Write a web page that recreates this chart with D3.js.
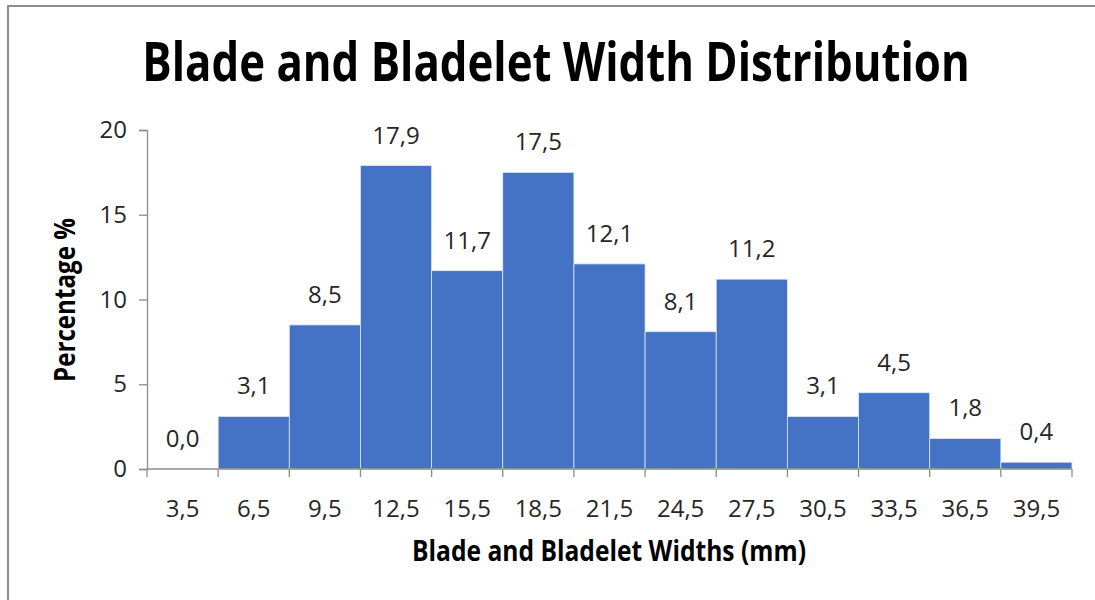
<!DOCTYPE html>
<html>
<head>
<meta charset="utf-8">
<script src="https://cdn.jsdelivr.net/npm/d3@7"></script>
<style>
  html, body { margin: 0; padding: 0; background: #fff; }
  svg { display: block; }
  text { font-family: "Open Sans", "Liberation Sans", sans-serif; }
</style>
</head>
<body>
<svg id="chart" width="1095" height="600"></svg>
<script>
// Width classes (mm) and the share of pieces in each class (%)
const widthClasses = ["3,5", "6,5", "9,5", "12,5", "15,5", "18,5", "21,5", "24,5", "27,5", "30,5", "33,5", "36,5", "39,5"];
const percentages = [0.0, 3.1, 8.5, 17.9, 11.7, 17.5, 12.1, 8.1, 11.2, 3.1, 4.5, 1.8, 0.4];
const yTicks = [0, 5, 10, 15, 20];

const titleText = "Blade and Bladelet Width Distribution";
const xTitleText = "Blade and Bladelet Widths (mm)";
const yTitleText = "Percentage %";

const svg = d3.select("#chart");
const W = 1095, H = 600;
const plot = { left: 147, right: 1072, top: 130, bottom: 469 };

const fmt = v => v.toFixed(1).replace(".", ",");

// outer chart frame
svg.append("rect")
  .attr("x", 8).attr("y", 6)
  .attr("width", W + 20).attr("height", H + 20)
  .attr("fill", "#fff")
  .attr("stroke", "#8c8c8c").attr("stroke-width", 2);

// shrink/grow a text element so it spans a given width
function fitWidth(sel, target) {
  const node = sel.node();
  const fs = parseFloat(sel.attr("font-size"));
  const w = node.getComputedTextLength();
  sel.attr("font-size", (fs * target / w).toFixed(2));
}

const x = d3.scaleBand()
  .domain(widthClasses)
  .range([plot.left, plot.right])
  .padding(0);

const y = d3.scaleLinear()
  .domain([0, 20])
  .range([plot.bottom, plot.top]);

// bars
svg.append("g")
  .selectAll("rect")
  .data(percentages)
  .join("rect")
  .attr("x", (d, i) => x(widthClasses[i]))
  .attr("y", d => y(d))
  .attr("width", x.bandwidth())
  .attr("height", d => y(0) - y(d))
  .attr("fill", "#4472C4")
  .attr("stroke", d => d > 0 ? "#dfe6f4" : "none")
  .attr("stroke-width", 0.8);

// value labels
svg.append("g")
  .selectAll("text")
  .data(percentages)
  .join("text")
  .attr("x", (d, i) => x(widthClasses[i]) + x.bandwidth() / 2)
  .attr("y", d => y(d) - 22)
  .attr("text-anchor", "middle")
  .attr("font-size", 24)
  .attr("fill", "#262626")
  .text(d => fmt(d));

// y axis
const yAxis = svg.append("g")
  .attr("transform", `translate(${plot.left},0)`)
  .call(d3.axisLeft(y).tickValues(yTicks).tickSize(8).tickPadding(12).tickFormat(d3.format("d")));
yAxis.select(".domain").attr("stroke", "#8c8c8c").attr("stroke-width", 1.3);
yAxis.selectAll(".tick line").attr("stroke", "#8c8c8c").attr("stroke-width", 1.3);
yAxis.selectAll(".tick text")
  .attr("font-size", 24).attr("fill", "#262626")
  .attr("font-family", "'Open Sans', sans-serif");

// x axis: line with ticks on the class boundaries
const xAxisG = svg.append("g");
xAxisG.append("line")
  .attr("x1", plot.left).attr("x2", plot.right)
  .attr("y1", plot.bottom).attr("y2", plot.bottom)
  .attr("stroke", "#8c8c8c").attr("stroke-width", 1.3);
const boundaries = widthClasses.map(c => x(c)).concat([x(widthClasses[widthClasses.length - 1]) + x.bandwidth()]);
xAxisG.selectAll("line.tk")
  .data(boundaries)
  .join("line")
  .attr("class", "tk")
  .attr("x1", d => d).attr("x2", d => d)
  .attr("y1", plot.bottom).attr("y2", plot.bottom + 8)
  .attr("stroke", "#8c8c8c").attr("stroke-width", 1.3);
xAxisG.selectAll("text")
  .data(widthClasses)
  .join("text")
  .attr("x", d => x(d) + x.bandwidth() / 2)
  .attr("y", 517)
  .attr("text-anchor", "middle")
  .attr("font-size", 24)
  .attr("fill", "#262626")
  .text(d => d);

// titles (stretched vertically for a condensed look)
const title = svg.append("text")
  .attr("transform", "translate(556,81) scale(1,1.22)")
  .attr("text-anchor", "middle")
  .attr("font-weight", 700)
  .attr("font-size", 44)
  .attr("fill", "#000")
  .text(titleText);
fitWidth(title, 827);

const xTitle = svg.append("text")
  .attr("transform", "translate(609,561) scale(1,1.18)")
  .attr("text-anchor", "middle")
  .attr("font-weight", 700)
  .attr("font-size", 22)
  .attr("fill", "#000")
  .text(xTitleText);
fitWidth(xTitle, 394);

const yTitle = svg.append("text")
  .attr("transform", "translate(75,300) rotate(-90) scale(1,1.18)")
  .attr("text-anchor", "middle")
  .attr("font-weight", 700)
  .attr("font-size", 22)
  .attr("fill", "#000")
  .text(yTitleText);
fitWidth(yTitle, 164);
</script>
</body>
</html>
